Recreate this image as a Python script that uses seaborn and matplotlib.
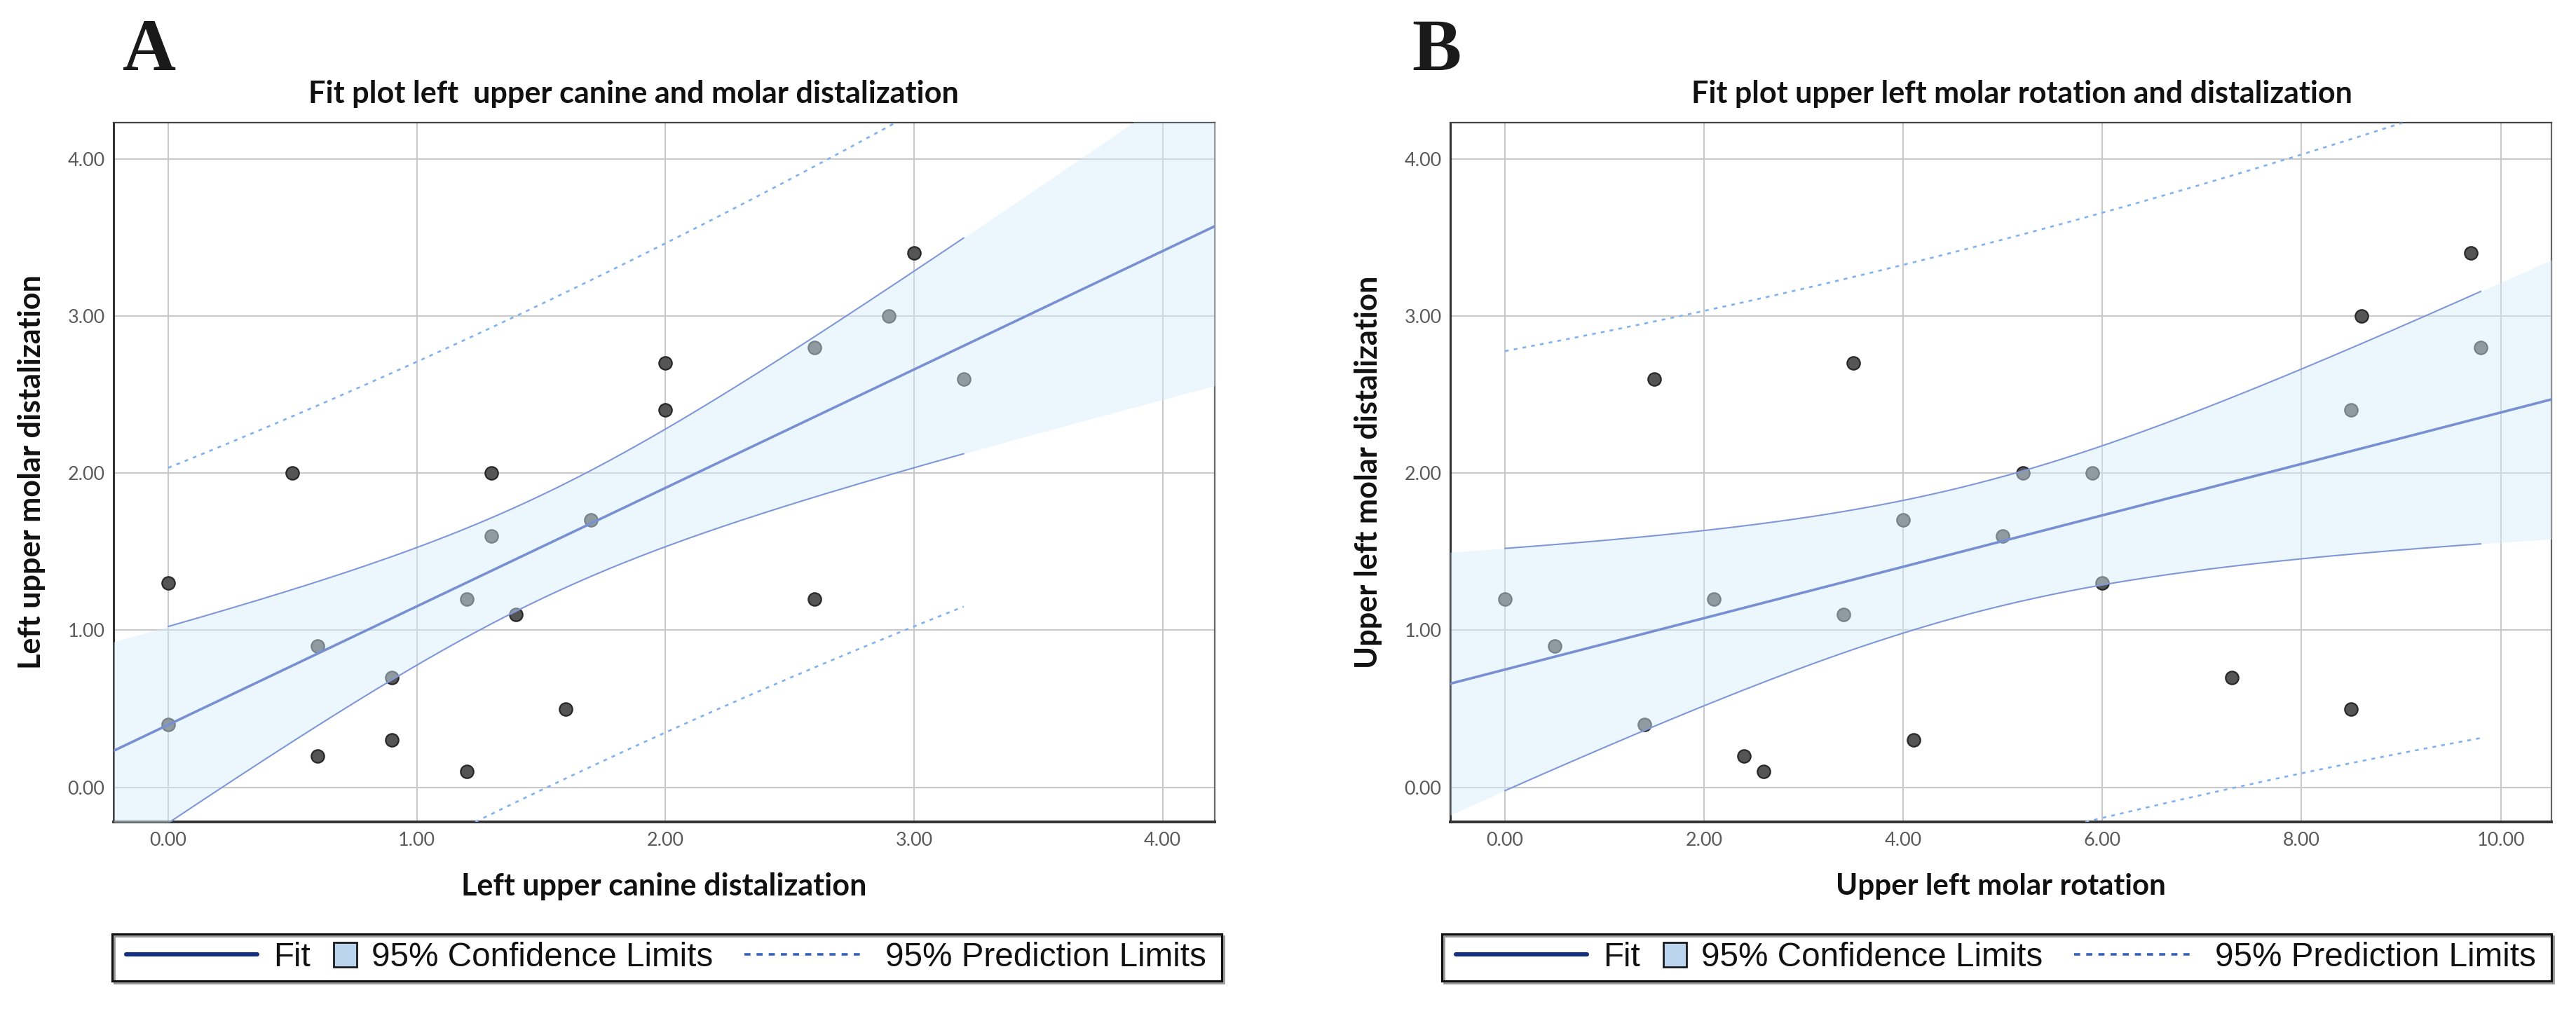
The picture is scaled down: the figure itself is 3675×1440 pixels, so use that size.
import numpy as np
import pandas as pd
import matplotlib
matplotlib.use("Agg")
import matplotlib.pyplot as plt
import seaborn as sns
from matplotlib.lines import Line2D
from matplotlib.patches import Patch, Rectangle

# ---------------- data ----------------
canine_A = [0.0, 0.0, 0.5, 0.6, 0.6, 0.9, 0.9, 1.2, 1.2, 1.3, 1.3, 1.4, 1.6, 1.7,
            2.0, 2.0, 2.6, 2.6, 2.9, 3.0, 3.2]
molar_A = [1.3, 0.4, 2.0, 0.9, 0.2, 0.7, 0.3, 1.2, 0.1, 2.0, 1.6, 1.1, 0.5, 1.7,
           2.7, 2.4, 2.8, 1.2, 3.0, 3.4, 2.6]
rotation_B = [0.0, 0.5, 1.4, 1.5, 2.1, 2.4, 2.6, 3.4, 3.5, 4.0, 4.1, 5.0, 5.2, 5.9,
              6.0, 7.3, 8.5, 8.5, 8.6, 9.7, 9.8]
molar_B = [1.2, 0.9, 0.4, 2.6, 1.2, 0.2, 0.1, 1.1, 2.7, 1.7, 0.3, 1.6, 2.0, 2.0,
           1.3, 0.7, 0.5, 2.4, 3.0, 3.4, 2.8]

panel_letters = ["A", "B"]
titles = ["Fit plot left  upper canine and molar distalization",
          "Fit plot upper left molar rotation and distalization"]
xlabels = ["Left upper canine distalization", "Upper left molar rotation"]
ylabels = ["Left upper molar distalization", "Upper left molar distalization"]
xticks_A = [0, 1, 2, 3, 4]
xticks_B = [0, 2, 4, 6, 8, 10]
yticks = [0, 1, 2, 3, 4]
legend_labels = ["Fit", "95% Confidence Limits", "95% Prediction Limits"]

T975_DF19 = 2.093  # Student t quantile, 0.975, df = n - 2 = 19

# ---------------- style ----------------
sns.set_style("white")
plt.rcParams["font.family"] = ["Lato", "DejaVu Sans"]

W, H = 3675, 1440
fig = plt.figure(figsize=(W / 100, H / 100), dpi=100)
fig.patch.set_facecolor("white")
renderer = fig.canvas.get_renderer()

SERIF = ["Liberation Serif", "DejaVu Serif"]
ARIAL = ["Liberation Sans", "DejaVu Sans"]
SANS = ["Lato", "DejaVu Sans"]


def fx(px):
    return px / W


def fy(py):
    return 1 - py / H


def size_for(text, target_px, base=20, **kw):
    """font size (pt) that makes `text` about target_px wide"""
    size = base
    for _ in range(3):
        t = fig.text(0, 0, text, fontsize=size, **kw)
        w = t.get_window_extent(renderer).width
        t.remove()
        size = size * target_px / w
    return size


def linfit(x, y, grid):
    x = np.asarray(x, float)
    y = np.asarray(y, float)
    n = len(x)
    b1, b0 = np.polyfit(x, y, 1)
    resid = y - (b0 + b1 * x)
    s = np.sqrt(np.sum(resid ** 2) / (n - 2))
    sxx = np.sum((x - x.mean()) ** 2)
    se_m = s * np.sqrt(1 / n + (grid - x.mean()) ** 2 / sxx)
    se_p = s * np.sqrt(1 + 1 / n + (grid - x.mean()) ** 2 / sxx)
    fit = b0 + b1 * grid
    return fit, fit - T975_DF19 * se_m, fit + T975_DF19 * se_m, \
        fit - T975_DF19 * se_p, fit + T975_DF19 * se_p


# font sizes fitted to the measured pixel extents of the reference
tick_fs = size_for("0.00", 53, family=SANS)
leg_fs = size_for(legend_labels[1], 486, family=ARIAL)
letter_fs = size_for("A", 76, family=SERIF, fontweight="bold")

panels = [
    dict(x=canine_A, y=molar_A, xlim=(-0.22, 4.21), xticks=xticks_A,
         left=162, right=1733, letter_x=175, title=(440, 1368), xlab_w=579,
         ylab_x=45, shift=0),
    dict(x=rotation_B, y=molar_B, xlim=(-0.55, 10.51), xticks=xticks_B,
         left=2069, right=3640, letter_x=2014, title=(2414, 3355), xlab_w=471,
         ylab_x=1952, shift=1897),
]
ylim = (-0.22, 4.23)
top_px, bottom_px = 175, 1173

fit_col = "#7890d3"
ci_col = "#7f97d8"
pi_col = "#80b2f2"
fill_col = "#d6edfb"

for i, p in enumerate(panels):
    ax = fig.add_axes([fx(p["left"]), fy(bottom_px),
                       fx(p["right"] - p["left"]), (bottom_px - top_px) / H])
    ax.set_xlim(p["xlim"])
    ax.set_ylim(ylim)
    df = pd.DataFrame({"x": p["x"], "y": p["y"]})

    # points (underneath the translucent confidence band)
    sns.scatterplot(data=df, x="x", y="y", ax=ax, s=175, color="#555555",
                    edgecolor="#282828", linewidth=1.6, zorder=2, legend=False)

    # confidence band over the full axis range
    gfull = np.linspace(p["xlim"][0], p["xlim"][1], 400)
    _, cl, cu, _, _ = linfit(p["x"], p["y"], gfull)
    ax.fill_between(gfull, cl, cu, color=fill_col, alpha=0.46, lw=0, zorder=3)

    # fit line across the whole axis
    sns.regplot(data=df, x="x", y="y", ax=ax, scatter=False, ci=None,
                truncate=False, line_kws=dict(color=fit_col, lw=2.6, zorder=5))

    # CI / PI limit lines over the data range
    gdat = np.linspace(min(p["x"]), max(p["x"]), 300)
    _, cl2, cu2, pl2, pu2 = linfit(p["x"], p["y"], gdat)
    for arr in (cl2, cu2):
        sns.lineplot(x=gdat, y=arr, ax=ax, color=ci_col, lw=1.5, zorder=4)
    for arr in (pl2, pu2):
        sns.lineplot(x=gdat, y=arr, ax=ax, color=pi_col, lw=1.9,
                     linestyle=(0, (2.0, 2.8)), zorder=4)

    ax.set_xlim(p["xlim"])
    ax.set_ylim(ylim)
    ax.set_xticks(p["xticks"])
    ax.set_yticks(yticks)
    ax.set_xticklabels([f"{v:.2f}" for v in p["xticks"]])
    ax.set_yticklabels([f"{v:.2f}" for v in yticks])
    ax.tick_params(axis="both", length=0, labelsize=tick_fs, labelcolor="#5a5a5a")
    ax.tick_params(axis="x", pad=10)
    ax.tick_params(axis="y", pad=9)
    ax.grid(True, color="#c9c9c9", lw=1.5)
    ax.set_axisbelow(True)
    for side, lw, c in (("top", 1.6, "#444444"), ("left", 2.2, "#333333"),
                        ("bottom", 2.8, "#333333"), ("right", 1.6, "#666666")):
        ax.spines[side].set_visible(True)
        ax.spines[side].set_linewidth(lw)
        ax.spines[side].set_color(c)

    xl_fs = size_for(xlabels[i], p["xlab_w"], family=SANS, fontweight="bold")
    yl_fs = size_for(ylabels[i], 561, family=SANS, fontweight="bold")
    ax.set_xlabel(xlabels[i], fontsize=xl_fs, fontweight="bold", color="#111111")
    ax.set_ylabel(ylabels[i], fontsize=yl_fs, fontweight="bold", color="#111111")
    ax.xaxis.label.set_va("center")
    ax.yaxis.label.set_va("center")
    ax.xaxis.set_label_coords(0.5, -(1265 - bottom_px) / (bottom_px - top_px))
    ax.yaxis.set_label_coords(-(p["left"] - p["ylab_x"]) / (p["right"] - p["left"]), 0.5)

    # panel letter and title
    fig.text(fx(p["letter_x"]), fy(100), panel_letters[i], fontsize=letter_fs,
             fontweight="bold", family=SERIF, ha="left", va="baseline",
             color="#1a1a1a")
    t0, t1 = p["title"]
    ti_fs = size_for(titles[i], t1 - t0, family=SANS, fontweight="bold")
    fig.text(fx((t0 + t1) / 2), fy(147), titles[i], fontsize=ti_fs,
             fontweight="bold", ha="center", va="baseline", color="#111111")

    # legend (three pieces inside one framed box)
    s = p["shift"]
    yc = fy(1366.5)
    fs_px = leg_fs * 100 / 72
    leg_font = dict(family=ARIAL, size=leg_fs)
    h_fit = Line2D([], [], color="#12307d", lw=4.4)
    h_ci = Patch(facecolor="#bcd5ef", edgecolor="#1a1a1a", lw=2)
    h_pi = Line2D([], [], color="#3862b8", lw=2.6, linestyle=(0, (2.4, 2.4)))
    specs = [(h_fit, legend_labels[0], 180, 187, 23, 0.7),
             (h_ci, legend_labels[1], 476, 33, 21, 35 / fs_px),
             (h_pi, legend_labels[2], 1062, 166, 35, 0.7)]
    for h, lab, xpx, hl_px, gap_px, hh in specs:
        lg = fig.legend([h], [lab], loc="center left",
                        bbox_to_anchor=(fx(xpx + s), yc), bbox_transform=fig.transFigure,
                        frameon=False, borderpad=0, borderaxespad=0,
                        handlelength=hl_px / fs_px, handletextpad=gap_px / fs_px,
                        handleheight=hh, prop=leg_font)
        for t in lg.get_texts():
            t.set_color("#111111")
    fig.add_artist(Rectangle((fx(163 + s), fy(1403)), fx(1583), 67 / H,
                             transform=fig.transFigure, fill=False,
                             ec="#9a9a9a", lw=2.0, zorder=0))
    fig.add_artist(Rectangle((fx(160 + s), fy(1400)), fx(1583), 67 / H,
                             transform=fig.transFigure, fill=False,
                             ec="#111111", lw=2.3, zorder=1))

fig.savefig("out.png", dpi=100, facecolor="white")
